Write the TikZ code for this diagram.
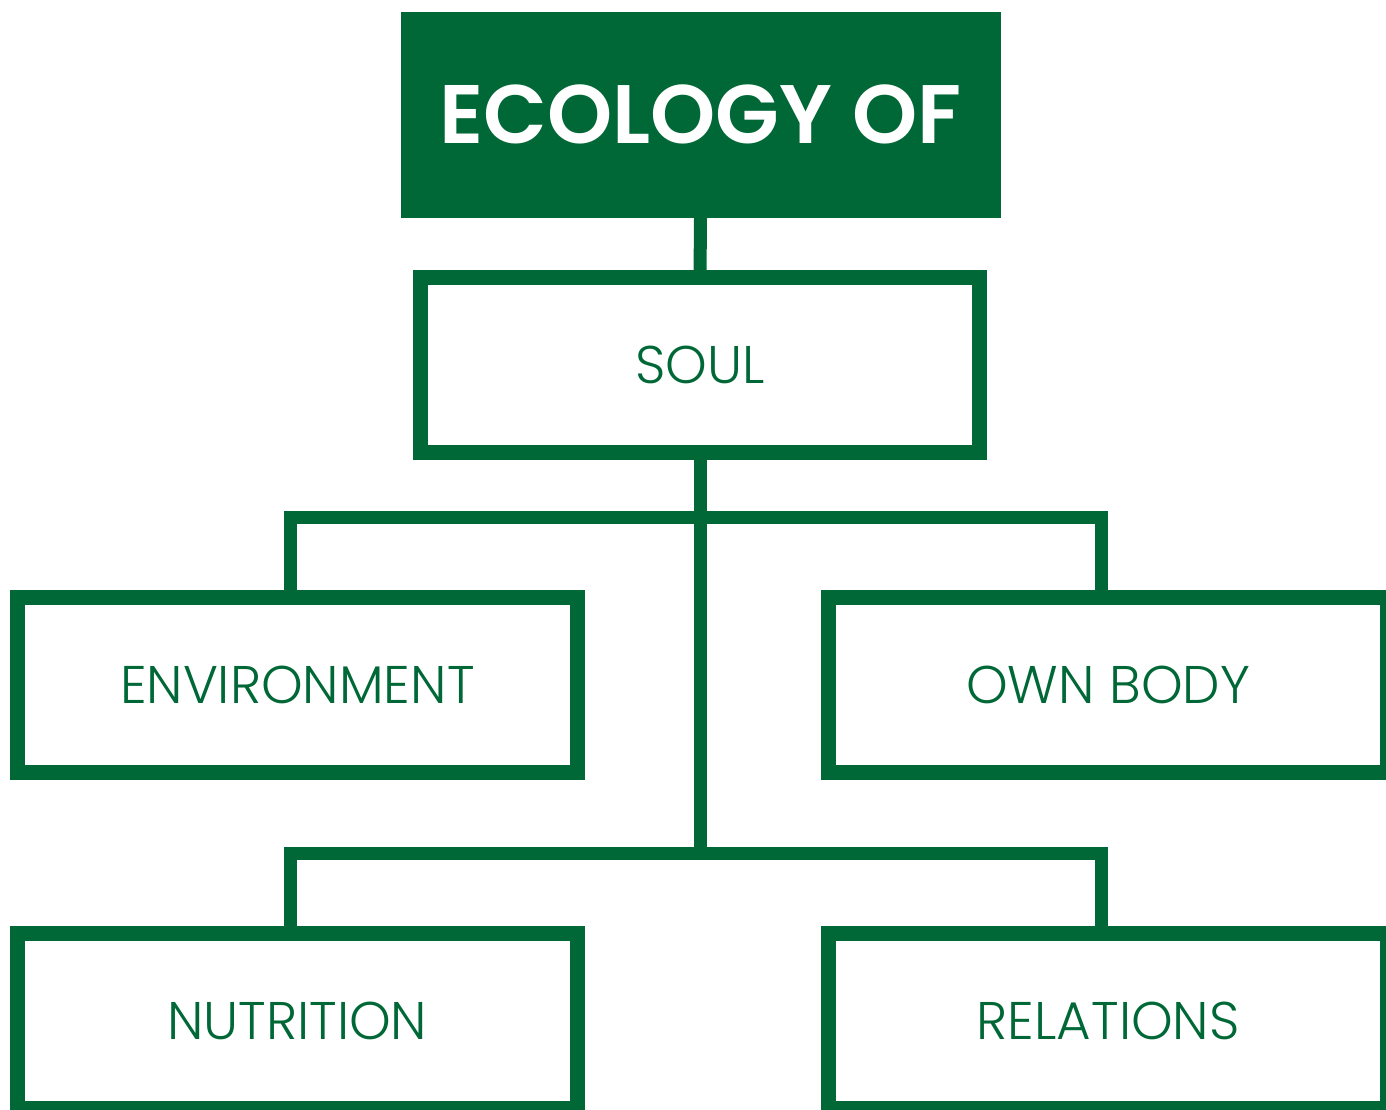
\documentclass[tikz,border=0pt]{standalone}
\usepackage{fontspec}
\usepackage{tikz}
\setmainfont{Poppins}
\newfontfamily\titlefont{Poppins}[UprightFont=* SemiBold]
\newfontfamily\labelfont{Poppins}[UprightFont=* Light]
\definecolor{ecogreen}{HTML}{006837}
\tikzset{
    topbox/.style={rectangle, fill=ecogreen, text=white, inner sep=0pt, outer sep=0pt,
        minimum width=600pt, minimum height=205.5pt, font=\titlefont\fontsize{83}{90}\selectfont},
    itembox/.style={rectangle, draw=ecogreen, line width=15pt, text=ecogreen, inner sep=0pt, outer sep=0pt,
        minimum width=559.5pt, minimum height=175pt, font=\labelfont\fontsize{53}{60}\selectfont},
    link/.style={draw=ecogreen, line width=13pt}
}
\begin{document}
\begin{tikzpicture}[x=1pt, y=-1pt]
    \useasboundingbox (0,0) rectangle (1386,1109);
    \clip (0,0) rectangle (1386,1109);
    \node [topbox] (title) at (700.5,114.75) {ECOLOGY OF};
    \node [itembox] (soul) at (700,365.3) {SOUL};
    \node [itembox] (env) at (297.3,685) {ENVIRONMENT};
    \node [itembox] (ownbody) at (1108.2,685) {OWN BODY};
    \node [itembox] (nutri) at (297.3,1020.5) {NUTRITION};
    \node [itembox] (relat) at (1108.2,1020.5) {RELATIONS};
    \coordinate (upper) at (700,517.5);
    \coordinate (lower) at (700,853.5);
    \draw [link] (title.south) -- (soul.north);
    \draw [link] (soul.south) -- (lower);
    \draw [link] ([xshift=-7pt]env.north) |- (upper) -| ([xshift=-7pt]ownbody.north);
    \draw [link] ([xshift=-7pt]nutri.north) |- (lower) -| ([xshift=-7pt]relat.north);
\end{tikzpicture}
\end{document}
